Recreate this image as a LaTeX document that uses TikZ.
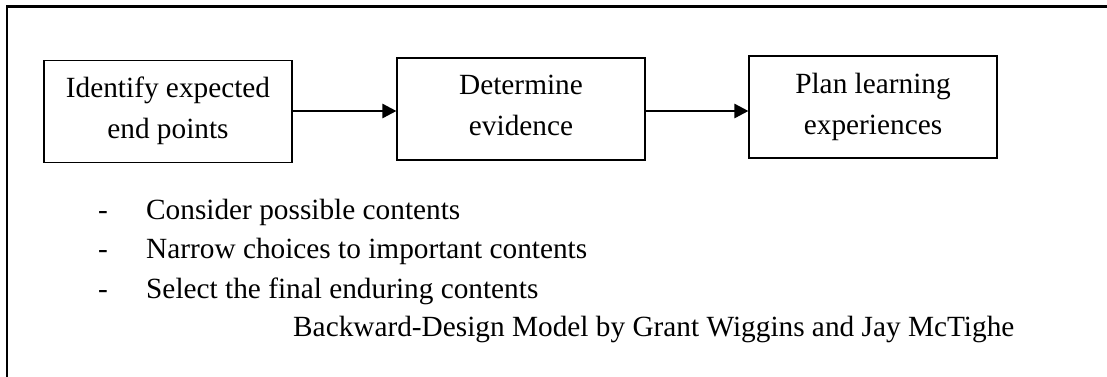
\documentclass[tikz,border=0pt]{standalone}
\usepackage{fontspec}
\setmainfont{Liberation Serif}
\usetikzlibrary{arrows.meta}
% fixed height/depth so both text lines sit the same way in every box
\newcommand\bstrut{\rule[-7pt]{0pt}{21pt}}
\tikzset{
  stage/.style={draw=black, line width=1.1pt, minimum width=248pt, minimum height=102pt,
    inner sep=0pt, align=center, font=\fontsize{29.3}{41}\selectfont},
  flow/.style={line width=2.5pt, -{Triangle[length=14pt,width=14pt]}},
  plain/.style={anchor=base west, inner sep=0pt, font=\fontsize{29.3}{35}\selectfont},
  frame/.style={line width=2.2pt}
}
\begin{document}
\begin{tikzpicture}[x=1pt, y=-1pt]
  \useasboundingbox (0,0) rectangle (1107,376);
  % open frame: left and top edges only
  \coordinate (fb) at (7,380);
  \coordinate (fc) at (7,6.5);
  \coordinate (fr) at (1110,6.5);
  \draw[frame] (fb) -- (fc) -- (fr);

  % the three stages
  \node[stage] (s1) at (168,111.5) {\bstrut Identify expected\bstrut\\\bstrut end points\bstrut};
  \node[stage] (s2) at (521,109) {\bstrut Determine\bstrut\\\bstrut evidence\bstrut};
  \node[stage] (s3) at (873,107) {\bstrut Plan learning\bstrut\\\bstrut experiences\bstrut};

  \draw[flow] (s1.east |- 0,111) -- (s2.west |- 0,111);
  \draw[flow] (s2.east |- 0,111) -- (s3.west |- 0,111);

  % notes under the first stage
  \node[plain] (d1) at (98,219) {-};
  \node[plain] (t1) at (146,219) {Consider possible contents};
  \node[plain] (d2) at (98,258) {-};
  \node[plain] (t2) at (146,258) {Narrow choices to important contents};
  \node[plain] (d3) at (98,298) {-};
  \node[plain] (t3) at (146,298) {Select the final enduring contents};
  \node[plain] (cap) at (293,336) {Backward-Design Model by Grant Wiggins and Jay McTighe};
\end{tikzpicture}
\end{document}
